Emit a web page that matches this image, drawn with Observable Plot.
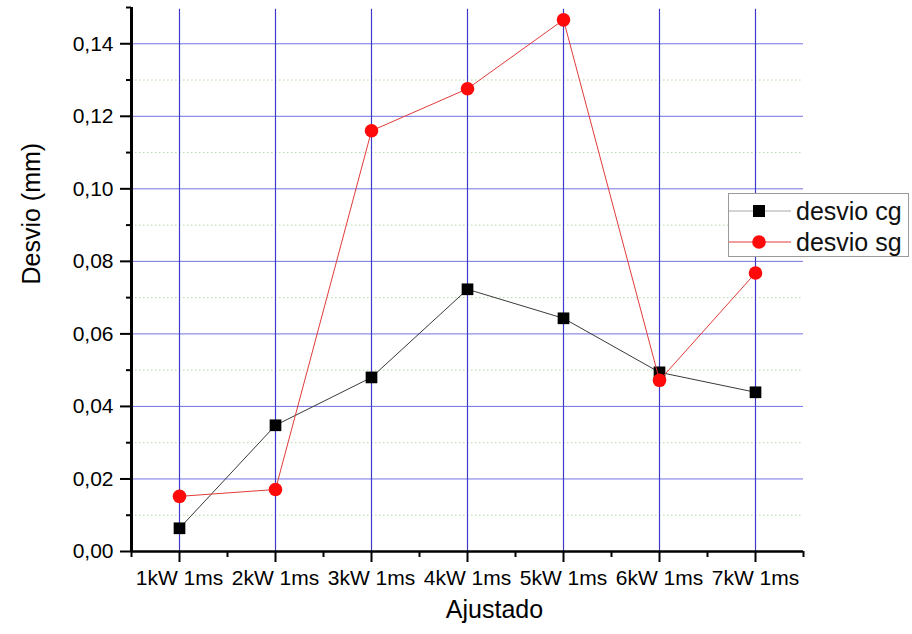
<!DOCTYPE html>
<html>
<head>
<meta charset="utf-8">
<script src="https://cdn.jsdelivr.net/npm/d3@7"></script>
<script src="https://cdn.jsdelivr.net/npm/@observablehq/plot@0.6"></script>
<style>
  body { margin: 0; background: white; }
  #wrap { position: relative; width: 912px; height: 634px; font-family: Arial, "Liberation Sans", sans-serif; }
  #legend { position: absolute; left: 728px; top: 193px; width: 179px; height: 62px; border: 1px solid #9a9a9a; background: white; }
  .row { position: absolute; left: 0; height: 30px; display: flex; align-items: center; }
  .row span { font-size: 25px; color: #111; margin-left: 5px; line-height: 30px; }
</style>
</head>
<body>
<div id="wrap"></div>
<script>
const categories = ["1kW 1ms", "2kW 1ms", "3kW 1ms", "4kW 1ms", "5kW 1ms", "6kW 1ms", "7kW 1ms"];
const desvioCg = [0.0064, 0.0348, 0.0480, 0.0723, 0.0643, 0.0494, 0.0439];
const desvioSg = [0.0152, 0.0171, 0.1160, 0.1276, 0.1466, 0.0472, 0.0768];
const seriesNames = ["desvio cg", "desvio sg"];
const yMajor = [0, 0.02, 0.04, 0.06, 0.08, 0.10, 0.12, 0.14];
const yMinor = [0.01, 0.03, 0.05, 0.07, 0.09, 0.11, 0.13, 0.15];
const yLabel = "Desvio (mm)";
const xLabel = "Ajustado";

const idx = categories.map((_, i) => i + 1);
const xMinor = [0.5, ...idx.map(i => i + 0.5)];
const cgData = categories.map((c, i) => ({i: i + 1, v: desvioCg[i]}));
const sgData = categories.map((c, i) => ({i: i + 1, v: desvioSg[i]}));
const fmt = d => d.toFixed(2).replace(".", ",");

const chart = Plot.plot({
  width: 912,
  height: 634,
  marginLeft: 131,
  marginRight: 109,
  marginTop: 7,
  marginBottom: 83,
  style: {fontFamily: 'Arial, "Liberation Sans", sans-serif', fontSize: "21px", background: "white", color: "black"},
  x: {type: "linear", domain: [0.5, 7.5], axis: null},
  y: {type: "linear", domain: [0, 0.15], axis: null},
  marks: [
    Plot.ruleY(yMinor.filter(v => v < 0.15), {stroke: "#b4d9a6", strokeDasharray: "1.5,2.5"}),
    Plot.ruleY(yMajor.filter(v => v > 0), {stroke: "#7272e4"}),
    Plot.ruleX(idx, {stroke: "#3c3cc8", strokeWidth: 1.2, y1: 0, y2: 0.1495}),
    Plot.axisY(yMajor, {tickSize: 11, tickPadding: 7, tickFormat: fmt, label: null, stroke: "#000", strokeWidth: 2, fontSize: 21}),
    Plot.axisY(yMinor, {tickSize: 5, tickFormat: () => "", label: null, stroke: "#000", strokeWidth: 2}),
    Plot.axisX(idx, {tickSize: 11, tickPadding: 8, tickFormat: i => categories[i - 1], label: null, stroke: "#000", strokeWidth: 2, fontSize: 21}),
    Plot.axisX(xMinor, {tickSize: 6, tickFormat: () => "", label: null, stroke: "#000", strokeWidth: 2}),
    Plot.ruleX([0.5], {strokeWidth: 3, stroke: "#000", y1: 0, y2: 0.15}),
    Plot.ruleY([0], {strokeWidth: 2.5, stroke: "#000"}),
    Plot.line(cgData, {x: "i", y: "v", stroke: "#3a3a3a", strokeWidth: 1}),
    Plot.dot(cgData, {x: "i", y: "v", symbol: "square", r: 6.6, fill: "black", stroke: "none"}),
    Plot.line(sgData, {x: "i", y: "v", stroke: "#e23a3a", strokeWidth: 1}),
    Plot.dot(sgData, {x: "i", y: "v", symbol: "circle", r: 6.8, fill: "#ff0a0a", stroke: "none"}),
    Plot.text([yLabel], {frameAnchor: "left", dx: -100, dy: 5, rotate: -90, fontSize: 25, fill: "black"}),
    Plot.text([xLabel], {frameAnchor: "bottom", dx: 27, dy: 66, fontSize: 25, fill: "black"})
  ]
});

const wrap = document.getElementById("wrap");
wrap.appendChild(chart);

const legend = document.createElement("div");
legend.id = "legend";
const legendItems = [
  {name: seriesNames[0], line: "#a8a8a8", marker: '<rect x="24" y="9" width="12" height="12" fill="black"/>'},
  {name: seriesNames[1], line: "#e23a3a", marker: '<circle cx="30" cy="15" r="6.8" fill="#ff0a0a"/>'}
];
legendItems.forEach((it, k) => {
  const row = document.createElement("div");
  row.className = "row";
  row.style.top = (2 + k * 31) + "px";
  row.innerHTML = `<svg width="62" height="30" style="display:block"><line x1="0" x2="62" y1="15" y2="15" stroke="${it.line}" stroke-width="1"/>${it.marker}</svg><span>${it.name}</span>`;
  legend.appendChild(row);
});
wrap.appendChild(legend);
</script>
</body>
</html>
